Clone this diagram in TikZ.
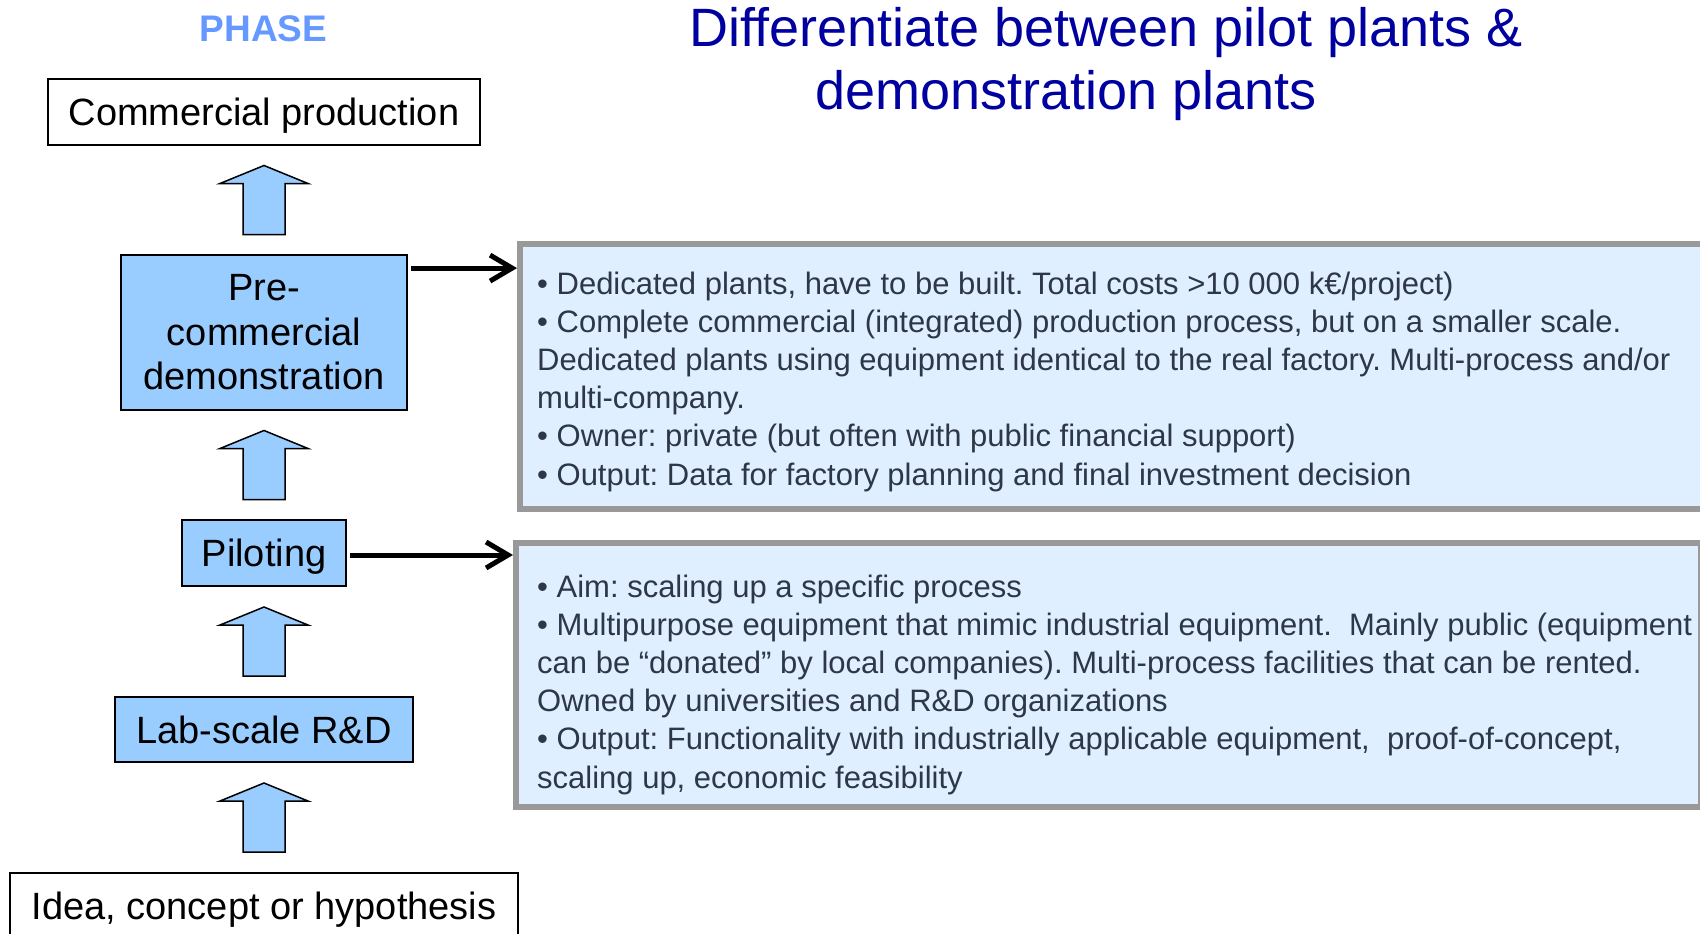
\documentclass[tikz,border=0pt]{standalone}
\usepackage{fontspec}
\setmainfont{Liberation Sans}
\frenchspacing
\usetikzlibrary{calc,arrows.meta}
\definecolor{phaseblue}{RGB}{102,153,255}
\definecolor{titleblue}{RGB}{0,0,160}
\definecolor{boxblue}{RGB}{153,204,255}
\definecolor{infofill}{RGB}{224,239,255}
\definecolor{infoborder}{RGB}{153,153,153}
\definecolor{infotext}{RGB}{45,55,70}
\begin{document}
\begin{tikzpicture}[x=1pt,y=-1pt,
  phasebox/.style={draw=black, line width=1.8pt, inner sep=0pt, align=center,
    font=\fontsize{38}{44.5}\selectfont},
  oneline/.style={text height=27.5pt, text depth=0pt},
  whitebox/.style={phasebox, oneline, fill=white},
  bluebox/.style={phasebox, fill=boxblue},
  infobox/.style={draw=infoborder, fill=infofill, line width=6pt, inner sep=0pt, anchor=north west},
  infotxt/.style={anchor=base west, inner sep=0pt, align=left, text=infotext,
    font=\fontsize{31}{38.2}\selectfont},
  conn/.style={line width=5pt, -{Straight Barb[length=22pt,width=26pt]}},
  blockarrow/.style={draw=black, line width=1.5pt, fill=boxblue, line join=miter},
  uparrow/.pic={\draw[blockarrow] (-21,34.5) -- (-21,-16.5) -- (-44,-16.5) -- (0,-34.5)
     -- (44,-16.5) -- (21,-16.5) -- (21,34.5) -- cycle;}
]
\useasboundingbox (0,0) rectangle (1700,934);

% title and heading (base anchor = last line's baseline)
\node[anchor=base, inner sep=0pt, text=phaseblue, font=\fontsize{37}{44}\selectfont\bfseries] (phase) at (263.5,42) {PHASE};
\node[anchor=base, inner sep=0pt, align=center, text=titleblue, font=\fontsize{54}{63}\selectfont] (title) at (1106,110)
  {Differentiate between pilot plants \&\\demonstration plants\hspace*{80pt}};

% phase boxes
\node[whitebox, minimum width=432pt, minimum height=66pt] (com) at (264,112) {Commercial production};
\node[bluebox, minimum width=286pt, minimum height=155pt] (pre) at (264,332.5) {Pre-\\commercial\\demonstration};
\node[bluebox, oneline, minimum width=164pt, minimum height=66pt] (pilot) at (264,553) {Piloting};
\node[bluebox, oneline, minimum width=298pt, minimum height=65pt] (lab) at (264,729.5) {Lab-scale R\&D};
\node[whitebox, minimum width=508pt, minimum height=66pt] (idea) at (264,906) {Idea, concept or hypothesis};

% block arrows between phases
\pic at ($(com.south)!0.5!(pre.north)$) {uparrow};
\pic at ($(pre.south)!0.5!(pilot.north)$) {uparrow};
\pic at ($(pilot.south)!0.5!(lab.north)$) {uparrow};
\pic at ($(lab.south)!0.5!(idea.north)$) {uparrow};

% info boxes
\node[infobox, minimum width=1185pt, minimum height=265pt] (info1) at (517,241) {};
\node[infobox, minimum width=1185pt, minimum height=264pt] (info2) at (513,540) {};

\node[infotxt] (txt1) at (537,485) {%
• Dedicated plants, have to be built. Total costs >10 000 k€/project)\\
• Complete commercial (integrated) production process, but on a smaller scale.\\
Dedicated plants using equipment identical to the real factory. Multi-process and/or\\
multi-company.\\
• Owner: private (but often with public financial support)\\
• Output: Data for factory planning and final investment decision};

\node[infotxt] (txt2) at (537,788) {%
• Aim: scaling up a specific process\\
• Multipurpose equipment that mimic industrial equipment.~ Mainly public (equipment\\
can be “donated” by local companies). Multi-process facilities that can be rented.\\
Owned by universities and R\&D organizations\\
• Output: Functionality with industrially applicable equipment,~ proof-of-concept,\\
scaling up, economic feasibility};

% connectors
\coordinate (s1) at ($(pre.north east)+(3,14)$);
\draw[conn] (s1) -- (s1 -| info1.west);
\coordinate (s2) at ($(pilot.east)+(3,2)$);
\draw[conn] (s2) -- (s2 -| info2.west);
\end{tikzpicture}
\end{document}
